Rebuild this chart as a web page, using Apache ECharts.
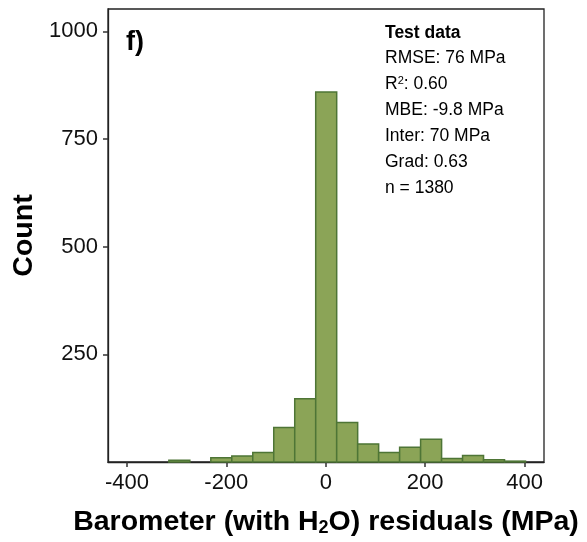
<!DOCTYPE html>
<html>
<head>
<meta charset="utf-8">
<script src="https://cdn.jsdelivr.net/npm/echarts@6/dist/echarts.min.js"></script>
<style>
html,body{margin:0;padding:0;background:#fff;}
#chart{width:587px;height:542px;}
</style>
</head>
<body>
<div id="chart"></div>
<script>
// Histogram bins (MPa) and counts
var binEdges = [-315.6, -273.4, -231.2, -189.0, -146.8, -104.6, -62.4, -20.2, 22.0, 64.2, 106.4, 148.6, 190.8, 233.0, 275.2, 317.4, 359.6, 401.8];
var counts = [4, 0, 10, 14, 22, 80, 147, 859, 92, 42, 22, 34, 53, 8, 15, 5, 2];
var xTicks = [-400, -200, 0, 200, 400];
var yTicks = [250, 500, 750, 1000];
var panelLabel = 'f)';
var statTitle = 'Test data';
var statLines = ['RMSE: 76 MPa', '{n|R}{sup|2}{n|: 0.60}', 'MBE: -9.8 MPa', 'Inter: 70 MPa', 'Grad: 0.63', 'n = 1380'];

var data = [];
for (var i = 0; i < counts.length; i++) {
  data.push([binEdges[i], binEdges[i + 1], counts[i]]);
}

var FONT = 'Liberation Sans, Arial, sans-serif';
var chart = echarts.init(document.getElementById('chart'));

var graphics = [{
  type: 'text', left: 126, top: 29,
  style: { text: panelLabel, font: 'bold 27px ' + FONT, fill: '#000' }
}, {
  type: 'text', left: 385, top: 24,
  style: { text: statTitle, font: 'bold 17.5px ' + FONT, fill: '#000' }
}];
statLines.forEach(function (s, k) {
  graphics.push({
    type: 'text', left: 385, top: 49 + k * 26,
    style: {
      text: s, font: '17.5px ' + FONT, fill: '#000',
      rich: { n: { fontSize: 17.5, fontFamily: FONT }, sup: { fontSize: 11, fontFamily: FONT, verticalAlign: 'top', padding: [0, 0, 8, 0] } }
    }
  });
});

chart.setOption({
  animation: false,
  backgroundColor: '#fff',
  grid: { left: 108, right: 43, top: 9, bottom: 80, show: true, borderColor: '#222', borderWidth: 1.3, backgroundColor: 'transparent' },
  xAxis: {
    type: 'value', min: -438, max: 439,
    name: '{b|Barometer (with H}{s|2}{b|O) residuals (MPa)}',
    nameLocation: 'middle', nameGap: 45,
    nameTextStyle: {
      rich: {
        b: { fontSize: 28.5, fontWeight: 'bold', fontFamily: FONT, color: '#000' },
        s: { fontSize: 18, fontWeight: 'bold', fontFamily: FONT, color: '#000', padding: [12, 0, 0, 0] }
      }
    },
    axisLine: { show: true, onZero: false, lineStyle: { color: '#222', width: 1.3 } },
    axisTick: { show: true, customValues: xTicks, length: 5, lineStyle: { color: '#333', width: 1.5 } },
    axisLabel: { customValues: xTicks, fontSize: 22, fontFamily: FONT, color: '#111', margin: 10 },
    splitLine: { show: false }
  },
  yAxis: {
    type: 'value', min: 0, max: 1052,
    name: 'Count', nameLocation: 'middle', nameGap: 61,
    nameTextStyle: { fontSize: 28.5, fontWeight: 'bold', fontFamily: FONT, color: '#000' },
    axisLine: { show: true, onZero: false, lineStyle: { color: '#222', width: 1.3 } },
    axisTick: { show: true, customValues: yTicks, length: 5, lineStyle: { color: '#333', width: 1.5 } },
    axisLabel: { customValues: yTicks, fontSize: 22, fontFamily: FONT, color: '#111', margin: 10,
      formatter: function (v) { return String(v); } },
    splitLine: { show: false }
  },
  series: [{
    type: 'custom',
    data: data,
    encode: { x: [0, 1], y: 2 },
    renderItem: function (params, api) {
      var c = api.value(2);
      if (!c) return null;
      var p0 = api.coord([api.value(0), c]);
      var p1 = api.coord([api.value(1), 0]);
      return {
        type: 'rect',
        shape: { x: p0[0], y: p0[1], width: p1[0] - p0[0], height: p1[1] - p0[1] },
        style: { fill: '#8ba457', stroke: '#4e7536', lineWidth: 1.5 }
      };
    }
  }],
  graphic: graphics
});
</script>
</body>
</html>
